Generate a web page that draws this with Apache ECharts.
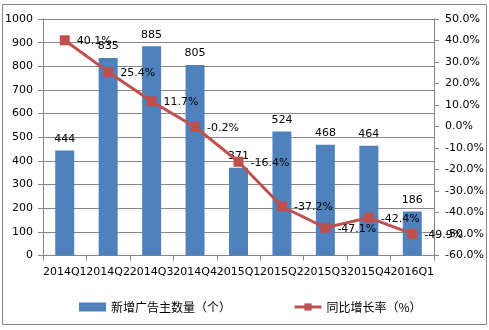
<!DOCTYPE html>
<html>
<head>
<meta charset="utf-8">
<script src="https://cdn.jsdelivr.net/npm/echarts@6/dist/echarts.min.js"></script>
<style>
  html, body { margin: 0; padding: 0; background: #fff; }
  #chart { width: 489px; height: 330px; }
</style>
</head>
<body>
<div id="chart"></div>
<script>
// Quarterly new advertisers and year-over-year growth
const quarters = ['2014Q1', '2014Q2', '2014Q3', '2014Q4', '2015Q1', '2015Q2', '2015Q3', '2015Q4', '2016Q1'];
const newAdvertisers = [444, 835, 885, 805, 371, 524, 468, 464, 186];
const yoyGrowth = [40.1, 25.4, 11.7, -0.2, -16.4, -37.2, -47.1, -42.4, -49.9];
const seriesNames = ['新增广告主数量（个）', '同比增长率（%）'];

const axisGray = '#868686';
const latin = 'DejaVu Sans, Verdana, sans-serif';
const cjk = '"Noto Sans CJK SC", "DejaVu Sans", sans-serif';

const chart = echarts.init(document.getElementById('chart'), null, { renderer: 'canvas' });
chart.setOption({
  animation: false,
  backgroundColor: '#fff',
  graphic: [{
    type: 'rect',
    shape: { x: 2.5, y: 4.5, width: 484, height: 320 },
    style: { fill: 'none', stroke: axisGray, lineWidth: 1 },
    silent: true
  }],
  grid: { left: 43, right: 55, top: 19, bottom: 74.5 },
  legend: {
    bottom: 12,
    left: 74,
    itemGap: 62,
    itemWidth: 27,
    itemHeight: 9,
    textStyle: { fontFamily: cjk, fontSize: 12, color: '#000' },
    data: [
      { name: seriesNames[0], icon: 'rect', itemStyle: { color: '#4F81BD' } },
      {
        name: seriesNames[1],
        itemStyle: { color: '#C0504D' },
        lineStyle: { color: '#C0504D', width: 3 }
      }
    ]
  },
  xAxis: {
    type: 'category',
    data: quarters,
    boundaryGap: true,
    axisLine: { lineStyle: { color: axisGray } },
    axisTick: { show: true, length: 5, alignWithLabel: false, lineStyle: { color: axisGray } },
    axisLabel: { interval: 0, margin: 11, fontFamily: latin, fontSize: 11, color: '#000' }
  },
  yAxis: [
    {
      type: 'value',
      min: 0, max: 1000, interval: 100,
      axisLine: { show: true, lineStyle: { color: axisGray } },
      axisTick: { show: true, length: 5, lineStyle: { color: axisGray } },
      splitLine: { show: true, lineStyle: { color: axisGray, width: 1 } },
      axisLabel: {
        margin: 10, fontFamily: latin, fontSize: 11, color: '#000',
        formatter: v => String(v)
      }
    },
    {
      type: 'value',
      min: -60, max: 50, interval: 10,
      position: 'right',
      axisLine: { show: true, lineStyle: { color: axisGray } },
      axisTick: { show: true, length: 5, lineStyle: { color: axisGray } },
      splitLine: { show: false },
      axisLabel: {
        margin: 11, fontFamily: latin, fontSize: 11, color: '#000',
        formatter: v => v.toFixed(1) + '%'
      }
    }
  ],
  series: [
    {
      name: seriesNames[0],
      type: 'bar',
      yAxisIndex: 0,
      data: newAdvertisers,
      barWidth: 19,
      itemStyle: { color: '#4F81BD' },
      label: {
        show: true, position: 'top', distance: 6,
        fontFamily: latin, fontSize: 11, color: '#000'
      }
    },
    {
      name: seriesNames[1],
      type: 'line',
      yAxisIndex: 1,
      data: yoyGrowth,
      symbol: 'rect',
      symbolSize: 10,
      lineStyle: { color: '#C0504D', width: 3 },
      itemStyle: { color: '#C0504D' },
      label: {
        show: true, position: 'right', distance: 7, offset: [0, 1],
        fontFamily: latin, fontSize: 11, color: '#000',
        formatter: p => p.value.toFixed(1) + '%'
      },
      z: 3
    }
  ]
});
</script>
</body>
</html>
